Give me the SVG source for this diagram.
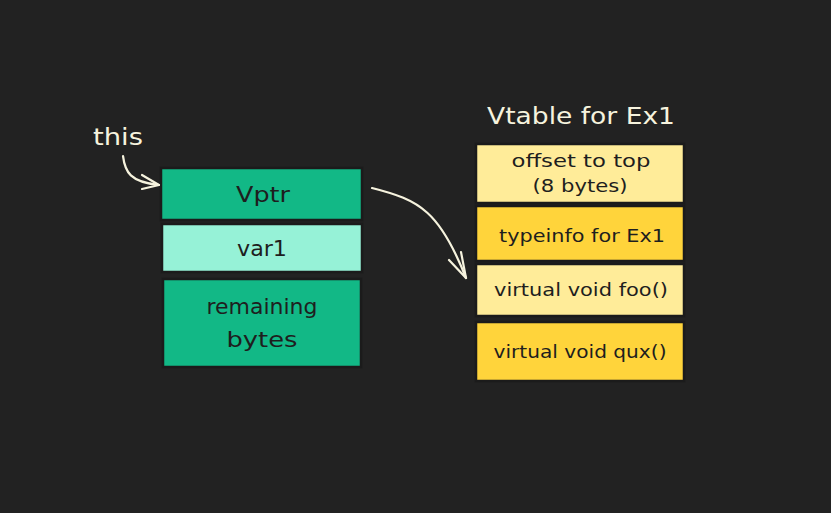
<svg xmlns="http://www.w3.org/2000/svg" width="831" height="513" viewBox="0 0 831 513">
<defs>
<style>
.bx{stroke:#1b1b1b;stroke-width:2.5}
.g{fill:#12b886}
.lg{fill:#96f2d7}
.ly{fill:#ffec99}
.y{fill:#ffd43b}
.t{font-family:"DejaVu Sans","Open Sans",sans-serif;fill:#1e1e1e;text-anchor:middle}
.big{font-size:21px}
.sm{font-size:17.5px}
.w{font-family:"DejaVu Sans","Open Sans",sans-serif;fill:#f6f3de;font-size:23px}
.c{fill:none;stroke:#f6f3de;stroke-width:2.2;stroke-linecap:round;stroke-linejoin:round}
</style>
</defs>
<rect width="831" height="513" fill="#222222"/>
<text class="w" x="93" y="145" textLength="50" lengthAdjust="spacingAndGlyphs">this</text>
<text class="w" x="581" y="124" text-anchor="middle" textLength="188" lengthAdjust="spacingAndGlyphs">Vtable for Ex1</text>
<g id="vptr"><rect class="bx g" x="161" y="168" width="201" height="52"/><text class="t big" x="263" y="202" textLength="54" lengthAdjust="spacingAndGlyphs">Vptr</text></g>
<g id="var1"><rect class="bx lg" x="162" y="224" width="200" height="48"/><text class="t big" x="262" y="256" textLength="50" lengthAdjust="spacingAndGlyphs">var1</text></g>
<g id="remaining"><rect class="bx g" x="163" y="279" width="198" height="88"/><text class="t big" x="262" y="314" textLength="111" lengthAdjust="spacingAndGlyphs">remaining</text><text class="t big" x="262" y="347" textLength="71" lengthAdjust="spacingAndGlyphs">bytes</text></g>
<g id="offset"><rect class="bx ly" x="476" y="144" width="208" height="59"/><text class="t sm" x="581" y="167" textLength="139" lengthAdjust="spacingAndGlyphs">offset to top</text><text class="t sm" x="580" y="192" textLength="95" lengthAdjust="spacingAndGlyphs">(8 bytes)</text></g>
<g id="typeinfo"><rect class="bx y" x="476" y="206" width="208" height="55"/><text class="t sm" x="582" y="242" textLength="166" lengthAdjust="spacingAndGlyphs">typeinfo for Ex1</text></g>
<g id="foo"><rect class="bx ly" x="476" y="264" width="208" height="52"/><text class="t sm" x="581" y="296" textLength="174" lengthAdjust="spacingAndGlyphs">virtual void foo()</text></g>
<g id="qux"><rect class="bx y" x="476" y="322" width="208" height="59"/><text class="t sm" x="580" y="358" textLength="173" lengthAdjust="spacingAndGlyphs">virtual void qux()</text></g>
<g id="connectors">
<path class="c" d="M123,156 C125,172 130,182 159,185"/>
<path class="c" d="M142,175 L159,185 L142,189"/>
<path class="c" d="M372,188 C420,200 440,212 466,278"/>
<path class="c" d="M449,260 L466,278 L461,252"/>
</g>
</svg>
